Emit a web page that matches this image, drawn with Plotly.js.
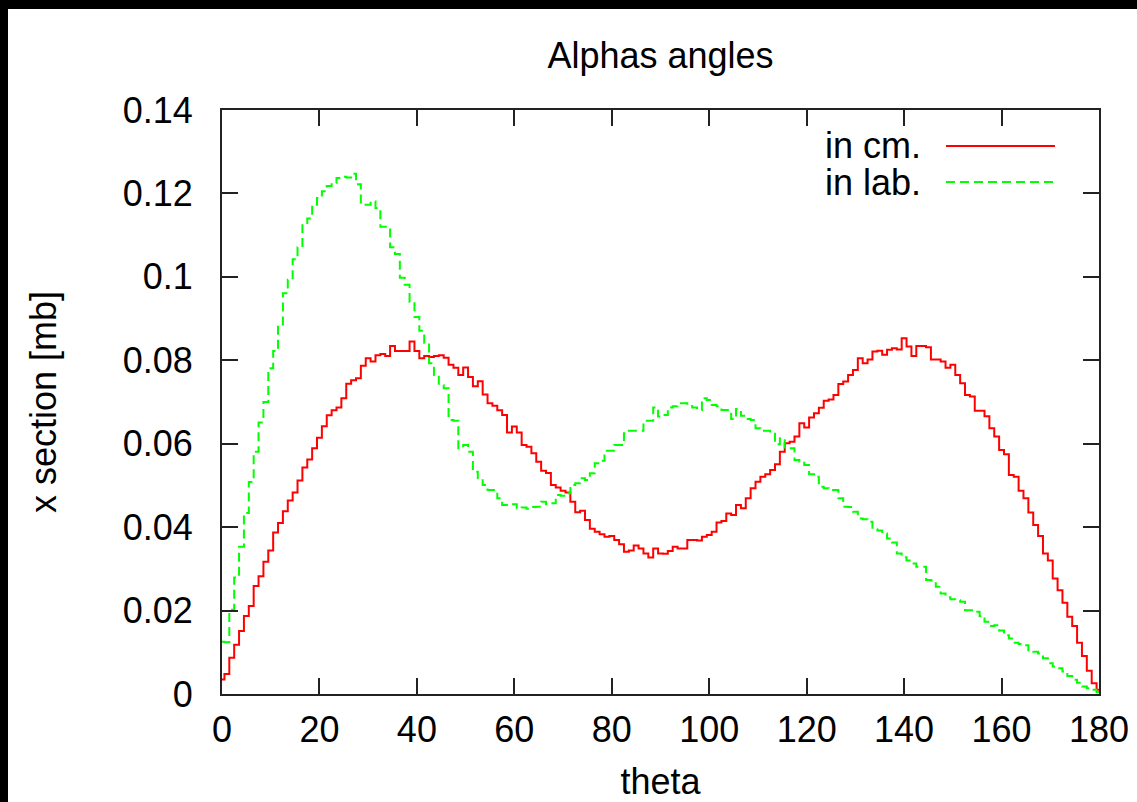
<!DOCTYPE html>
<html>
<head>
<meta charset="utf-8">
<script src="https://cdn.plot.ly/plotly-3.0.1.min.js"></script>
<style>
  html, body { margin: 0; padding: 0; background: #000; width: 1137px; height: 802px; overflow: hidden; }
  #plot { position: absolute; left: 8px; top: 9px; width: 1129px; height: 793px; background: #fff; }
</style>
</head>
<body>
<div id="plot"></div>
<script>
// theta bins (degrees), one value per 1-degree bin centre
const theta = Array.from({length: 181}, (_, i) => i);

// "in cm." cross section [mb]
const inCm = [
  0.0035, 0.0048, 0.0087, 0.0118, 0.0151, 0.0187, 0.0211, 0.0259, 0.0282, 0.0317,
  0.0344, 0.0387, 0.0410, 0.0438, 0.0464, 0.0483, 0.0512, 0.0543, 0.0562, 0.0589,
  0.0614, 0.0642, 0.0668, 0.0680, 0.0687, 0.0709, 0.0744, 0.0752, 0.0757, 0.0787,
  0.0805, 0.0797, 0.0812, 0.0815, 0.0810, 0.0834, 0.0822, 0.0822, 0.0822, 0.0845,
  0.0822, 0.0805, 0.0810, 0.0808, 0.0810, 0.0812, 0.0806, 0.0789, 0.0782, 0.0765,
  0.0783, 0.0760, 0.0738, 0.0750, 0.0718, 0.0697, 0.0691, 0.0680, 0.0669, 0.0627,
  0.0641, 0.0627, 0.0597, 0.0593, 0.0577, 0.0557, 0.0535, 0.0530, 0.0501, 0.0495,
  0.0487, 0.0483, 0.0461, 0.0436, 0.0439, 0.0417, 0.0396, 0.0389, 0.0383, 0.0377,
  0.0379, 0.0369, 0.0359, 0.0341, 0.0344, 0.0356, 0.0349, 0.0337, 0.0327, 0.0349,
  0.0337, 0.0336, 0.0343, 0.0353, 0.0349, 0.0349, 0.0369, 0.0369, 0.0368, 0.0377,
  0.0381, 0.0389, 0.0411, 0.0415, 0.0433, 0.0429, 0.0453, 0.0445, 0.0469, 0.0493,
  0.0509, 0.0521, 0.0527, 0.0537, 0.0551, 0.0581, 0.0601, 0.0605, 0.0617, 0.0649,
  0.0639, 0.0663, 0.0673, 0.0686, 0.0703, 0.0706, 0.0717, 0.0743, 0.0749, 0.0765,
  0.0777, 0.0805, 0.0793, 0.0802, 0.0821, 0.0823, 0.0813, 0.0825, 0.0829, 0.0826,
  0.0853, 0.0833, 0.0810, 0.0834, 0.0834, 0.0831, 0.0802, 0.0802, 0.0797, 0.0782,
  0.0789, 0.0765, 0.0745, 0.0717, 0.0713, 0.0679, 0.0679, 0.0666, 0.0637, 0.0617,
  0.0585, 0.0575, 0.0525, 0.0521, 0.0487, 0.0469, 0.0435, 0.0405, 0.0379, 0.0337,
  0.0320, 0.0277, 0.0249, 0.0219, 0.0185, 0.0163, 0.0123, 0.0091, 0.0056, 0.0026,
  0.0010
];

// "in lab." cross section [mb]
const inLab = [
  0.0125, 0.0124, 0.0202, 0.0279, 0.0353, 0.0434, 0.0508, 0.0581, 0.0651, 0.0700,
  0.0781, 0.0822, 0.0883, 0.0961, 0.0993, 0.1042, 0.1071, 0.1124, 0.1140, 0.1173,
  0.1189, 0.1205, 0.1218, 0.1225, 0.1237, 0.1240, 0.1238, 0.1247, 0.1222, 0.1173,
  0.1173, 0.1181, 0.1165, 0.1120, 0.1120, 0.1071, 0.1055, 0.0998, 0.0981, 0.0940,
  0.0904, 0.0871, 0.0842, 0.0793, 0.0765, 0.0740, 0.0733, 0.0657, 0.0655, 0.0589,
  0.0597, 0.0581, 0.0533, 0.0517, 0.0501, 0.0489, 0.0489, 0.0469, 0.0453, 0.0453,
  0.0455, 0.0445, 0.0447, 0.0444, 0.0448, 0.0449, 0.0461, 0.0455, 0.0457, 0.0477,
  0.0475, 0.0481, 0.0501, 0.0505, 0.0517, 0.0513, 0.0529, 0.0553, 0.0559, 0.0583,
  0.0583, 0.0597, 0.0597, 0.0625, 0.0631, 0.0631, 0.0631, 0.0655, 0.0655, 0.0687,
  0.0665, 0.0669, 0.0687, 0.0690, 0.0697, 0.0697, 0.0693, 0.0687, 0.0681, 0.0709,
  0.0705, 0.0693, 0.0690, 0.0681, 0.0681, 0.0659, 0.0683, 0.0667, 0.0659, 0.0657,
  0.0637, 0.0631, 0.0631, 0.0629, 0.0599, 0.0613, 0.0591, 0.0589, 0.0561, 0.0557,
  0.0549, 0.0527, 0.0521, 0.0497, 0.0493, 0.0489, 0.0489, 0.0469, 0.0449, 0.0448,
  0.0437, 0.0421, 0.0419, 0.0413, 0.0395, 0.0392, 0.0385, 0.0373, 0.0363, 0.0337,
  0.0328, 0.0320, 0.0313, 0.0305, 0.0305, 0.0273, 0.0272, 0.0257, 0.0241, 0.0232,
  0.0227, 0.0225, 0.0221, 0.0201, 0.0201, 0.0197, 0.0187, 0.0173, 0.0163, 0.0165,
  0.0152, 0.0141, 0.0133, 0.0123, 0.0120, 0.0117, 0.0105, 0.0101, 0.0097, 0.0086,
  0.0074, 0.0066, 0.0062, 0.0054, 0.0043, 0.0034, 0.0027, 0.0018, 0.0014, 0.0010,
  0.0005
];

const seriesNames = ["in cm.", "in lab."];
const xTickVals = [0, 20, 40, 60, 80, 100, 120, 140, 160, 180];
const yTickVals = [0, 0.02, 0.04, 0.06, 0.08, 0.1, 0.12, 0.14];
const yTickText = ["0", "0.02", "0.04", "0.06", "0.08", "0.1", "0.12", "0.14"];

const FONT = "Liberation Sans, Arial, Helvetica, sans-serif";
const RED = "#ff0000";
const GREEN = "#00ff00";

const traces = [
  { x: theta, y: inCm, name: seriesNames[0], type: "scatter", mode: "lines",
    line: { shape: "hvh", color: RED, width: 2 }, showlegend: false },
  { x: theta, y: inLab, name: seriesNames[1], type: "scatter", mode: "lines",
    line: { shape: "hvh", color: GREEN, width: 2, dash: "9px,5px" }, showlegend: false }
];

const axisCommon = {
  showline: true, linecolor: "#222", linewidth: 2, mirror: "allticks",
  ticks: "inside", ticklen: 16, tickwidth: 2, tickcolor: "#222",
  showgrid: false, zeroline: false, automargin: false,
  tickfont: { family: FONT, size: 36, color: "#000" }
};

const layout = {
  width: 1129, height: 793,
  margin: { l: 214, r: 38, t: 101, b: 108 },
  paper_bgcolor: "#fff", plot_bgcolor: "#fff",
  font: { family: FONT, size: 36, color: "#000" },
  title: { text: "Alphas angles", font: { family: FONT, size: 36, color: "#000" },
           x: 0.5, xref: "paper", xanchor: "center", y: 0.942, yref: "container", yanchor: "middle" },
  xaxis: Object.assign({}, axisCommon, {
    range: [0, 180], tickvals: xTickVals, ticktext: xTickVals.map(String),
    ticklabelstandoff: 3,
    title: { text: "theta", font: { family: FONT, size: 36, color: "#000" }, standoff: 28 }
  }),
  yaxis: Object.assign({}, axisCommon, {
    range: [0, 0.14], tickvals: yTickVals, ticktext: yTickText,
    ticklabelstandoff: 20,
    title: { text: "x section [mb]", font: { family: FONT, size: 36, color: "#000" }, standoff: 55 }
  }),
  annotations: [
    { text: seriesNames[0], xref: "paper", yref: "paper", x: 0.7993, y: 0.9384,
      xanchor: "right", yanchor: "middle", showarrow: false,
      font: { family: FONT, size: 36, color: "#000" } },
    { text: seriesNames[1], xref: "paper", yref: "paper", x: 0.7993, y: 0.8767,
      xanchor: "right", yanchor: "middle", showarrow: false,
      font: { family: FONT, size: 36, color: "#000" } }
  ],
  shapes: [
    { type: "line", xref: "paper", yref: "paper", x0: 0.8255, x1: 0.9498, y0: 0.9384, y1: 0.9384,
      line: { color: RED, width: 2 } },
    { type: "line", xref: "paper", yref: "paper", x0: 0.8255, x1: 0.9498, y0: 0.8767, y1: 0.8767,
      line: { color: GREEN, width: 2, dash: "9px,5px" } }
  ]
};

Plotly.newPlot("plot", traces, layout, { staticPlot: true, displayModeBar: false });
</script>
</body>
</html>
